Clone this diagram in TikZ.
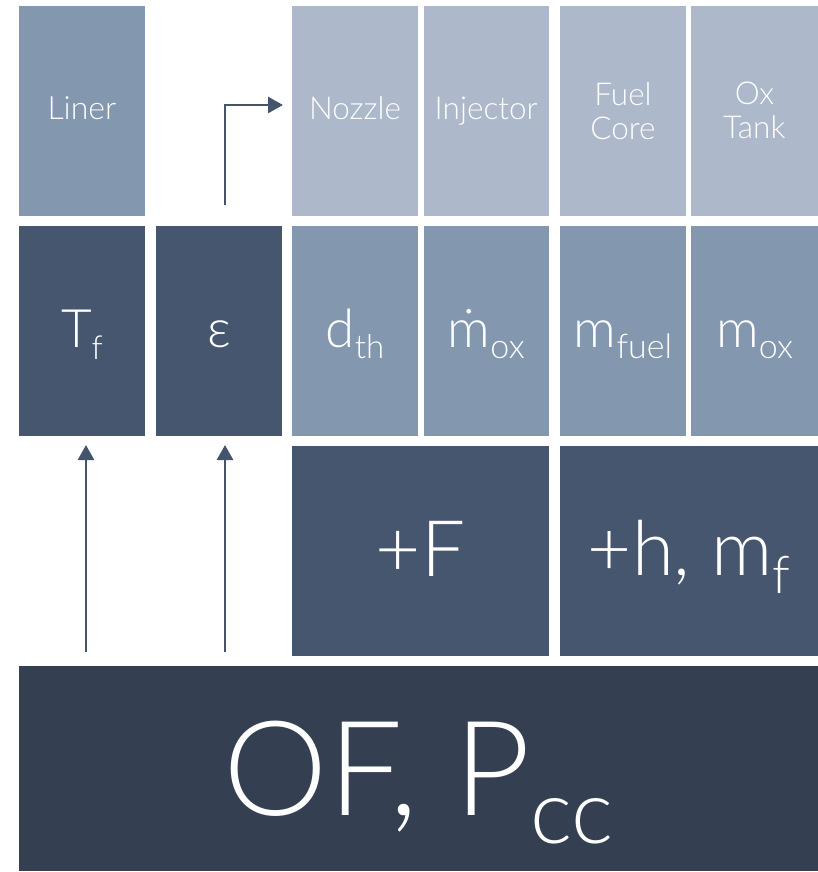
\documentclass[tikz,border=0pt]{standalone}
\usepackage{fontspec}
\setmainfont{Lato}[UprightFont=* Light]
\usetikzlibrary{arrows.meta,calc}
\definecolor{cLight}{HTML}{ADB8CA}
\definecolor{cMid}{HTML}{8397AF}
\definecolor{cDark}{HTML}{47566F}
\definecolor{cDeep}{HTML}{343F52}
\definecolor{cArrow}{HTML}{44546C}
\newcommand\lowsub[3]{\raisebox{-#1pt}{\fontsize{#2}{#2}\selectfont #3}}
\tikzset{
  tile/.style={draw=none, inner sep=0pt, outer sep=0pt, text=white, anchor=center},
  toptile/.style={tile, fill=cLight, minimum width=126pt, minimum height=209.5pt,
     font=\fontsize{31.5}{34}\selectfont, text height=17pt, text depth=0pt},
  midtile/.style={tile, fill=cMid, minimum width=126pt, minimum height=210pt,
     font=\fontsize{53}{60}\selectfont, text height=33pt, text depth=0pt},
  darktile/.style={tile, fill=cDark, minimum height=210pt},
  arr/.style={draw=cArrow, line width=2.8pt, -{Triangle[length=15pt,width=16pt]}}
}
\begin{document}
\begin{tikzpicture}[x=1pt,y=-1pt]
\useasboundingbox (0,0) rectangle (818,872);
% row 1
\node[toptile, fill=cMid, font=\fontsize{32}{34}\selectfont, text height=18.5pt] (liner) at (82,110.75) {Liner};
\node[toptile] (noz) at (355,110.75) {Nozzle};
\node[toptile, minimum width=125.5pt] (inj) at (486.25,110.75) {Injector};
\node[toptile, align=center, text height=, text depth=] (fuel) at (623,110.75) {Fuel\\Core};
\node[toptile, align=center, minimum width=127pt, text height=, text depth=] (oxt) at (754.5,110.75) {Ox\\Tank};
% row 2
\node[midtile, fill=cDark, text height=32pt] (tf) at (82,331) {T\lowsub{12}{33}{f}};
\node[midtile, fill=cDark] (eps) at (219,331) {ε};
\node[midtile] (dth) at (355,331) {d\lowsub{11}{33}{th}};
\node[midtile, minimum width=125.5pt] (mdot) at (486.25,331) {ṁ\lowsub{11}{34}{ox}};
\node[midtile] (mfuel) at (623,331) {m\lowsub{11}{34}{fuel}};
\node[midtile, minimum width=127pt] (mox) at (754.5,331) {m\lowsub{11}{34}{ox}};
% row 3
\node[darktile, minimum width=257pt, font=\fontsize{78}{90}\selectfont, text height=50pt, text depth=0pt] (thrust) at (420.5,551) {+F};
\node[darktile, minimum width=258pt, font=\fontsize{76}{90}\selectfont, text height=48pt, text depth=0pt] (hm) at (689,551) {+h, m\lowsub{18}{52}{f}};
% row 4
\node[tile, fill=cDeep, minimum width=799pt, minimum height=205pt, font=\fontsize{132}{150}\selectfont, text height=93pt, text depth=0pt] (of) at (418.5,768.5) {OF, P\lowsub{28}{89}{cc}};
% connectors
\draw[arr, shorten <=14pt, shorten >=9pt] ($(tf.south|-of.north)+(4,0)$) -- ($(tf.south)+(4,0)$);
\draw[arr, shorten <=14pt, shorten >=9pt] ($(eps.south|-of.north)+(6,0)$) -- ($(eps.south)+(6,0)$);
\draw[arr, shorten <=21pt, shorten >=9pt] ($(eps.north)+(6,0)$) |- ($(noz.west)+(0,-5.75)$);
\end{tikzpicture}
\end{document}
